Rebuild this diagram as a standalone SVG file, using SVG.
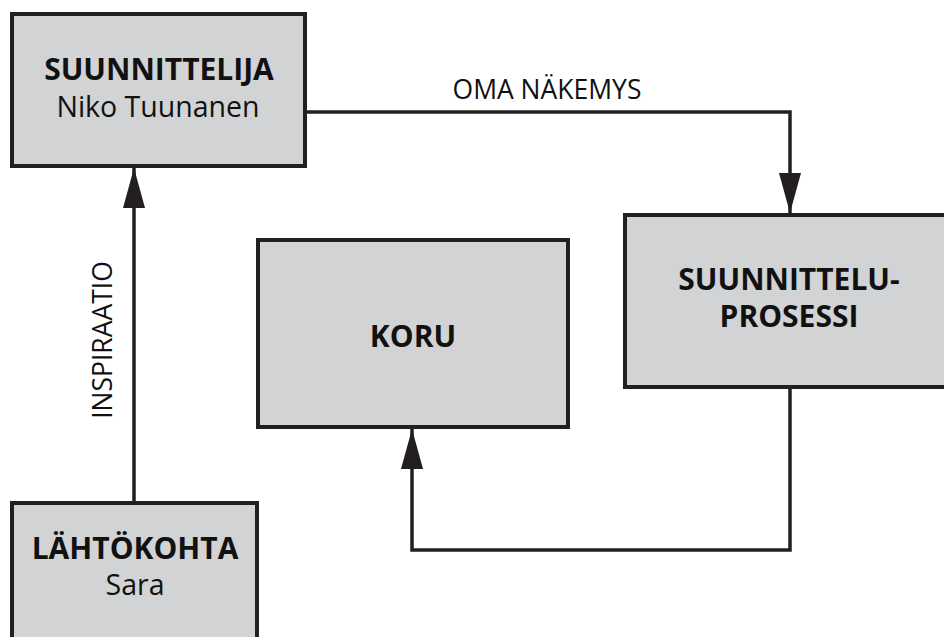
<svg xmlns="http://www.w3.org/2000/svg" width="944" height="637" viewBox="0 0 944 637">
<defs>
<style>
.box{fill:#d1d3d4;stroke:#231f20;stroke-width:4}
.con{fill:none;stroke:#231f20;stroke-width:3.5}
text{font-family:"Open Sans","DejaVu Sans",sans-serif;fill:#111;text-anchor:middle}
.t{font-weight:bold;font-size:30px}
.tl{font-weight:bold;font-size:30px}
.s{font-size:28.5px}
.lab{font-size:26.5px}
</style>
<marker id="ah" markerUnits="userSpaceOnUse" markerWidth="40" markerHeight="22" refX="40" refY="11" orient="auto">
<path d="M0,0 L40,11 L0,22 z" fill="#231f20"/>
</marker>
</defs>
<rect width="944" height="637" fill="#fff"/>
<g id="connectors">
<path class="con" d="M305,112 H790 V213" marker-end="url(#ah)"/>
<path class="con" d="M790,387 V550 H412 V429" marker-end="url(#ah)"/>
<path class="con" d="M134,503 V168" marker-end="url(#ah)"/>
<text class="lab" x="547" y="99">OMA NÄKEMYS</text>
<text class="lab" transform="translate(112,340) rotate(-90)">INSPIRAATIO</text>
</g>
<g id="suunnittelija">
<rect class="box" x="12" y="14" width="293" height="152"/>
<text class="t" x="159" y="80">SUUNNITTELIJA</text>
<text class="s" x="158" y="117">Niko Tuunanen</text>
</g>
<g id="prosessi">
<rect class="box" x="625" y="215" width="330" height="172"/>
<text class="tl" x="789" y="290">SUUNNITTELU-</text>
<text class="tl" x="789" y="327">PROSESSI</text>
</g>
<g id="koru">
<rect class="box" x="258" y="240" width="310" height="187"/>
<text class="tl" x="413" y="347">KORU</text>
</g>
<g id="lahtokohta">
<rect class="box" x="12" y="503" width="245" height="150"/>
<text class="t" x="135" y="559">LÄHTÖKOHTA</text>
<text class="s" x="135" y="595">Sara</text>
</g>
</svg>
